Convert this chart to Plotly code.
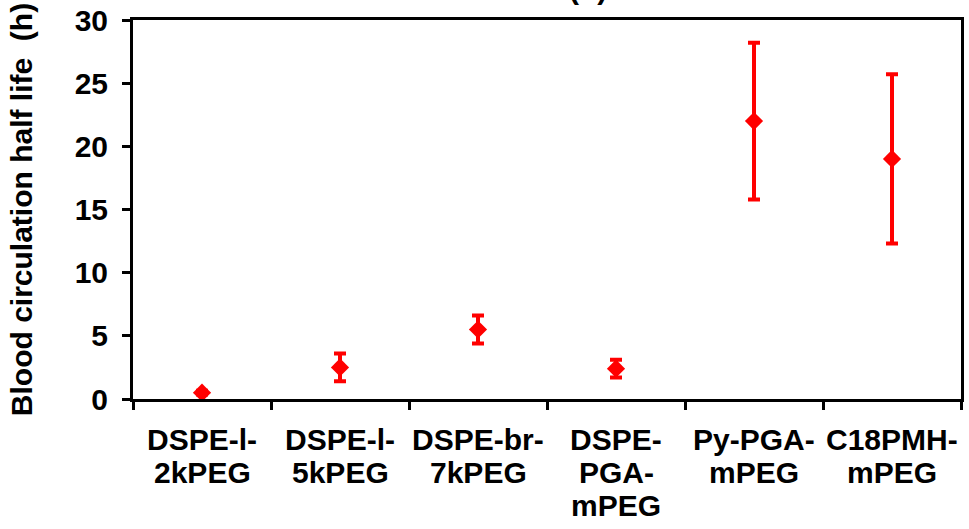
import plotly.graph_objects as go

categories = ["DSPE-l-<br>2kPEG", "DSPE-l-<br>5kPEG", "DSPE-br-<br>7kPEG",
              "DSPE-<br>PGA-<br>mPEG", "Py-PGA-<br>mPEG", "C18PMH-<br>mPEG"]
half_life = [0.5, 2.5, 5.5, 2.4, 22.0, 19.0]
half_life_err = [0.15, 1.1, 1.1, 0.7, 6.2, 6.7]
y_ticks = [0, 5, 10, 15, 20, 25, 30]

FONT = "Liberation Sans, Arial, sans-serif"
FS = 30

fig = go.Figure()
fig.add_trace(go.Scatter(
    x=list(range(len(categories))), y=half_life, mode="markers",
    marker=dict(symbol="diamond", size=14, color="#ff0000"),
    error_y=dict(type="data", array=half_life_err, visible=True,
                 color="#ff0000", thickness=4, width=6),
    showlegend=False,
))

annotations = []
for i, lab in enumerate(categories):
    for j, line in enumerate(lab.split("<br>")):
        annotations.append(dict(
            x=i, y=0, xref="x", yref="paper", text="<b>%s</b>" % line,
            showarrow=False, xanchor="center", yanchor="top",
            yshift=-22 - 33 * j, font=dict(family=FONT, size=FS, color="black"),
        ))
annotations.append(dict(
    x=(588 - 133) / (961 - 133), xref="paper", y=1, yref="paper", text="<b>(b)</b>",
    showarrow=False, xanchor="center", yanchor="bottom", yshift=13,
    font=dict(family=FONT, size=FS, color="black"),
))

fig.update_layout(
    width=969, height=529,
    margin=dict(l=133, r=8, t=20, b=130, autoexpand=False),
    plot_bgcolor="white", paper_bgcolor="white",
    font=dict(family=FONT, size=FS, color="black"),
    annotations=annotations,
    xaxis=dict(
        range=[-0.5, len(categories) - 0.5],
        tickvals=[i - 0.5 for i in range(len(categories) + 1)],
        ticktext=[""] * (len(categories) + 1),
        showgrid=False, zeroline=False,
        showline=True, linecolor="black", linewidth=3, mirror=True,
        ticks="outside", ticklen=8, tickwidth=3, tickcolor="black",
    ),
    yaxis=dict(
        range=[0, 30], tickvals=y_ticks,
        ticktext=["<b>%d</b>" % v for v in y_ticks],
        showgrid=False, zeroline=False,
        showline=True, linecolor="black", linewidth=3, mirror=True,
        ticks="outside", ticklen=8, tickwidth=3, tickcolor="black",
        ticklabelstandoff=8,
        tickfont=dict(family=FONT, size=FS, color="black"),
        title=dict(text="<b>Blood circulation half life  (h)</b>",
                   font=dict(family=FONT, size=FS, color="black"), standoff=34),
    ),
)

fig.write_html("out.html", config={"displayModeBar": False},
               post_script="document.body.style.margin='0px';")
